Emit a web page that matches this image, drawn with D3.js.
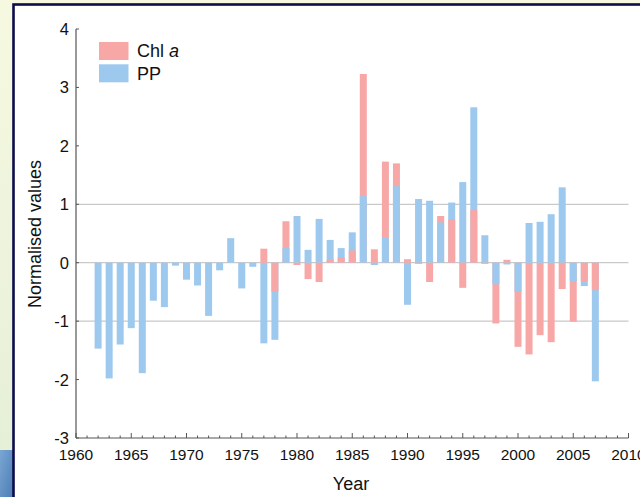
<!DOCTYPE html>
<html>
<head>
<meta charset="utf-8">
<script src="https://cdn.jsdelivr.net/npm/d3@7"></script>
<style>
  html, body { margin: 0; padding: 0; }
  body { width: 640px; height: 497px; overflow: hidden; }
  svg { display: block; font-family: Arial, "Liberation Sans", sans-serif; }
</style>
</head>
<body>
<svg id="chart" width="640" height="497"></svg>
<script>
// ---- data ----
const years = [1962,1963,1964,1965,1966,1967,1968,1969,1970,1971,1972,1973,1974,1975,1976,
  1977,1978,1979,1980,1981,1982,1983,1984,1985,1986,1987,1988,1989,1990,1991,1992,1993,
  1994,1995,1996,1997,1998,1999,2000,2001,2002,2003,2004,2005,2006,2007];
const ppValues = [-1.47,-1.98,-1.40,-1.12,-1.89,-0.65,-0.76,-0.05,-0.29,-0.39,-0.91,-0.13,0.42,-0.44,-0.07,
  -1.38,-1.32,0.26,0.80,0.22,0.75,0.39,0.25,0.52,1.14,-0.04,0.43,1.31,-0.72,1.09,1.06,0.69,
  1.03,1.38,2.66,0.47,-0.37,-0.03,-0.50,0.68,0.70,0.83,1.29,-0.32,-0.40,-2.03];
const chlValues = [null,null,null,null,null,null,null,null,null,null,null,null,null,null,null,
  0.24,-0.50,0.71,-0.04,-0.28,-0.33,0.05,0.09,0.21,3.23,0.23,1.73,1.70,0.06,-0.02,-0.33,0.80,
  0.74,-0.43,0.90,-0.02,-1.04,0.05,-1.44,-1.57,-1.24,-1.36,-0.45,-1.01,-0.32,-0.47];
const seriesNames = ["Chl a", "PP"];
const yTicks = [-3,-2,-1,0,1,2,3,4];
const xTicksMajor = [1960,1965,1970,1975,1980,1985,1990,1995,2000,2005,2010];
const gridValues = [-1,0,1];

// ---- setup ----
const svg = d3.select("#chart");
const defs = svg.append("defs");
const gBg = defs.append("linearGradient").attr("id","bgGrad").attr("x1",0).attr("y1",0).attr("x2",0).attr("y2",1);
gBg.append("stop").attr("offset","0%").attr("stop-color","#f6f9e0");
gBg.append("stop").attr("offset","100%").attr("stop-color","#e4efd6");
const gBlue = defs.append("linearGradient").attr("id","blueGrad").attr("x1",0).attr("y1",0).attr("x2",1).attr("y2",1);
gBlue.append("stop").attr("offset","0%").attr("stop-color","#7aa6d2");
gBlue.append("stop").attr("offset","100%").attr("stop-color","#4c7db6");

svg.append("rect").attr("width",640).attr("height",497).attr("fill","url(#bgGrad)");
svg.append("rect").attr("x",0).attr("y",450).attr("width",13).attr("height",47).attr("fill","url(#blueGrad)");
svg.append("rect").attr("x",13.5).attr("y",4.5).attr("width",640).attr("height",500)
  .attr("fill","#ffffff").attr("stroke","#0c0c4c").attr("stroke-width",2.6);

const x = d3.scaleLinear().domain([1960,2010]).range([76,628.5]);
const y = d3.scaleLinear().domain([-3,4]).range([438,29]);
const barW = 7;
const colors = {"Chl a":"#f8a7a7", "PP":"#9dc9ef"};

// gridlines
svg.append("g").selectAll("line").data(gridValues).join("line")
  .attr("x1", x(1960)).attr("x2", x(2010))
  .attr("y1", d => y(d)).attr("y2", d => y(d))
  .attr("stroke","#c9c9c9").attr("stroke-width",1.2);

// bars: for each year, longer bar drawn first, shorter on top
const barData = [];
years.forEach((yr,i) => {
  const items = [];
  if (ppValues[i] !== null) items.push({year:yr, value:ppValues[i], series:"PP"});
  if (chlValues[i] !== null) items.push({year:yr, value:chlValues[i], series:"Chl a"});
  items.sort((a,b) => Math.abs(b.value) - Math.abs(a.value));
  barData.push(...items);
});
svg.append("g").selectAll("rect").data(barData).join("rect")
  .attr("x", d => x(d.year) - barW/2)
  .attr("width", barW)
  .attr("y", d => Math.min(y(d.value), y(0)))
  .attr("height", d => Math.abs(y(d.value) - y(0)))
  .attr("fill", d => colors[d.series]);

// x axis
const xAxis = d3.axisTop(x).tickValues(d3.range(1960, 2011, 1))
  .tickSize(0).tickFormat("");
const gx = svg.append("g").attr("transform", `translate(0,${y(-3)})`);
gx.append("line").attr("x1", x(1960)).attr("x2", x(2010)).attr("stroke","#555").attr("stroke-width",1.2);
gx.selectAll("line.tk").data(d3.range(1960, 2011)).join("line").attr("class","tk")
  .attr("x1", d => x(d)).attr("x2", d => x(d))
  .attr("y1", 0).attr("y2", d => xTicksMajor.includes(d) ? -5 : -2.5)
  .attr("stroke","#555").attr("stroke-width",1);
gx.selectAll("text").data(xTicksMajor).join("text")
  .attr("x", d => x(d)).attr("y", 22)
  .attr("text-anchor","middle").attr("font-size",15.5).attr("fill","#111")
  .text(d => d);

// y axis
const gy = svg.append("g");
gy.append("line").attr("x1", x(1960)).attr("x2", x(1960)).attr("y1", y(-3)).attr("y2", y(4))
  .attr("stroke","#555").attr("stroke-width",1.2);
gy.selectAll("line.tk").data(yTicks).join("line").attr("class","tk")
  .attr("x1", x(1960)).attr("x2", x(1960) + 3)
  .attr("y1", d => y(d)).attr("y2", d => y(d))
  .attr("stroke","#555").attr("stroke-width",1);
gy.selectAll("text").data(yTicks).join("text")
  .attr("x", 69).attr("y", d => y(d)).attr("dy","0.36em")
  .attr("text-anchor","end").attr("font-size",16.5).attr("fill","#111")
  .text(d => d);

// axis titles
svg.append("text").attr("x", 351).attr("y", 490).attr("text-anchor","middle")
  .attr("font-size",18).attr("fill","#111").text("Year");
svg.append("text").attr("transform","translate(41,234) rotate(-90)").attr("text-anchor","middle")
  .attr("font-size",18).attr("fill","#111").text("Normalised values");

// legend
const lg = svg.append("g");
seriesNames.forEach((name, i) => {
  lg.append("rect").attr("x", 99).attr("y", 42 + i*22.3).attr("width", 29.5).attr("height", 18)
    .attr("fill", colors[name]);
});
const t1 = lg.append("text").attr("x", 137).attr("y", 57).attr("font-size",18).attr("fill","#111");
t1.append("tspan").text("Chl ");
t1.append("tspan").attr("font-style","italic").text("a");
lg.append("text").attr("x", 137).attr("y", 79.5).attr("font-size",18).attr("fill","#111").text(seriesNames[1]);
</script>
</body>
</html>
